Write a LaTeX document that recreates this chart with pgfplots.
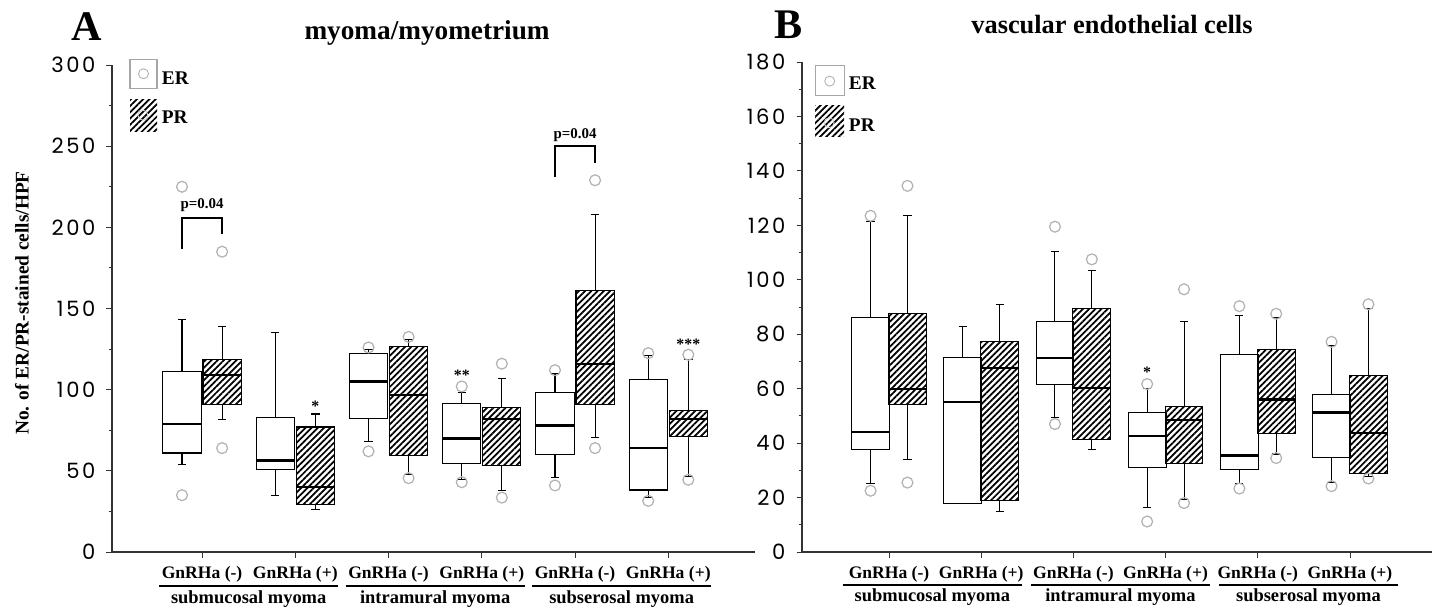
\documentclass[border=0pt]{standalone}
\usepackage{fontspec}
\setmainfont{Liberation Serif}
\newfontfamily\poppins[LetterSpace=12]{Poppins}
\usepackage{pgfplots}
\pgfplotsset{compat=1.18}
\usepgfplotslibrary{statistics}
\usetikzlibrary{patterns.meta}

\pgfplotsset{
  panel/.style={
    scale only axis,
    axis x line*=bottom, axis y line*=left,
    axis line style={black!80, line width=0.6pt},
    tick align=outside,
    tick style={black!80, line width=0.5pt},
    major tick length=1.1mm, minor tick length=0.7mm,
    xtick={1,...,6},
    xticklabels={GnRHa (-),GnRHa (+),GnRHa (-),GnRHa (+),GnRHa (-),GnRHa (+)},
    xticklabel style={font=\bfseries\fontsize{10}{12}\selectfont, yshift=-0.6mm},
    yticklabel style={font=\poppins\fontsize{12}{14}\selectfont, xshift=-1.0mm},
    /pgf/number format/assume math mode=true,
    minor y tick num=1,
    clip=false,
    boxplot/draw direction=y,
    cycle list={{black}},
  },
  erbox/.style={solid, draw=black, line width=0.6pt, mark=o, mark size=3.1pt,
    mark options={draw=gray!60, line width=0.7pt, fill=none},
    boxplot/box extend=0.41, boxplot/whisker extend=0.09,
    boxplot/every box/.style={fill=white},
    boxplot/every median/.style={line width=1.3pt}},
  prbox/.style={erbox,
    boxplot/every box/.style={pattern={Lines[angle=45,distance=2.5pt,line width=1pt]}}},
}
\tikzset{
  grp/.style={font=\bfseries\fontsize{10.5}{12}\selectfont},
  star/.style={font=\bfseries\fontsize{9}{10}\selectfont},
  pval/.style={font=\bfseries\fontsize{8.5}{10}\selectfont},
  legtxt/.style={font=\bfseries\fontsize{11}{13}\selectfont, anchor=west, inner sep=0pt},
}

\begin{document}
\begin{tikzpicture}
\useasboundingbox (0,0) rectangle (287mm,121.8mm);

% ---------------- A: myoma/myometrium
\begin{axis}[panel,
  at={(22.4mm,11.4mm)}, anchor=south west,
  width=128.6mm, height=97.4mm,
  xmin=0.034, xmax=6.93, ymin=0, ymax=300,
  ytick={0,50,...,300},
  ylabel={No. of ER/PR-stained cells/HPF},
  ylabel style={font=\bfseries\fontsize{11}{13}\selectfont, at={(axis description cs:-0.14,0.511)}, anchor=center},
  title={myoma/myometrium},
  title style={font=\bfseries\fontsize{15.5}{18}\selectfont, at={(axis description cs:0.49,1.045)}, anchor=center},
]
% submucosal
\addplot+[erbox, boxplot prepared={draw position=0.785, lower whisker=54, lower quartile=61, median=79, upper quartile=111, upper whisker=143}] table[row sep=\\, y index=0] {v\\35\\225\\};
\addplot+[prbox, boxplot prepared={draw position=1.215, lower whisker=81.5, lower quartile=91, median=109, upper quartile=118.5, upper whisker=139}] table[row sep=\\, y index=0] {v\\64\\185\\};
\addplot+[erbox, boxplot prepared={draw position=1.785, lower whisker=35, lower quartile=51, median=56.3, upper quartile=83, upper whisker=135}] coordinates {};
\addplot+[prbox, boxplot prepared={draw position=2.215, lower whisker=26, lower quartile=29.5, median=40, upper quartile=77, upper whisker=85}] coordinates {};
% intramural
\addplot+[erbox, boxplot prepared={draw position=2.785, lower whisker=68, lower quartile=82.3, median=105, upper quartile=122, upper whisker=124.5}] table[row sep=\\, y index=0] {v\\62\\126\\};
\addplot+[prbox, boxplot prepared={draw position=3.215, lower whisker=48, lower quartile=59.5, median=96.5, upper quartile=126.5, upper whisker=131}] table[row sep=\\, y index=0] {v\\45.5\\132.5\\};
\addplot+[erbox, boxplot prepared={draw position=3.785, lower whisker=44.5, lower quartile=54.3, median=70, upper quartile=91.5, upper whisker=98.5}] table[row sep=\\, y index=0] {v\\43\\102\\};
\addplot+[prbox, boxplot prepared={draw position=4.215, lower whisker=38, lower quartile=53.5, median=82, upper quartile=89, upper whisker=107}] table[row sep=\\, y index=0] {v\\33.5\\116\\};
% subserosal
\addplot+[erbox, boxplot prepared={draw position=4.785, lower whisker=46, lower quartile=60, median=78, upper quartile=98.5, upper whisker=110}] table[row sep=\\, y index=0] {v\\41\\112\\};
\addplot+[prbox, boxplot prepared={draw position=5.215, lower whisker=70.5, lower quartile=91, median=116, upper quartile=161, upper whisker=208}] table[row sep=\\, y index=0] {v\\64\\229\\};
\addplot+[erbox, boxplot prepared={draw position=5.785, lower whisker=33.5, lower quartile=38.2, median=64, upper quartile=106, upper whisker=121}] table[row sep=\\, y index=0] {v\\31.5\\122.5\\};
\addplot+[prbox, boxplot prepared={draw position=6.215, lower whisker=46.5, lower quartile=71, median=82, upper quartile=87, upper whisker=118.5}] table[row sep=\\, y index=0] {v\\44.5\\121.5\\};

% legend
\draw[gray!70, line width=0.6pt, fill=white] (axis description cs:0.028,0.951) rectangle (axis description cs:0.070,1.012);
\draw[gray!60, line width=0.5pt] (axis description cs:0.049,0.982) circle (1mm);
\fill[pattern={Lines[angle=45,distance=2.5pt,line width=1pt]}] (axis description cs:0.028,0.864) rectangle (axis description cs:0.070,0.930);
\draw[gray!35, line width=0.5pt] (axis description cs:0.048,0.897) circle (1mm);
\node[legtxt] at (axis description cs:0.077,0.973) {ER};
\node[legtxt] at (axis description cs:0.077,0.893) {PR};

% significance brackets and stars
\draw[line width=1pt] (axis cs:0.785,186.6) -- (axis cs:0.785,205.8) -- (axis cs:1.215,205.8) -- (axis cs:1.215,196);
\node[pval] at (axis cs:1.0,213.6) {p=0.04};
\draw[line width=1pt] (axis cs:4.785,231) -- (axis cs:4.785,250) -- (axis cs:5.215,250) -- (axis cs:5.215,239.7);
\node[pval] at (axis cs:5.0,257) {p=0.04};
\node[star] at (axis cs:2.215,90) {*};
\node[star] at (axis cs:3.785,109) {**};
\node[star] at (axis cs:6.215,128) {***};

% group labels
\draw[line width=0.9pt] ([yshift=-6.8mm]axis cs:0.54,0) -- ([yshift=-6.8mm]axis cs:2.46,0);
\draw[line width=0.9pt] ([yshift=-6.8mm]axis cs:2.54,0) -- ([yshift=-6.8mm]axis cs:4.46,0);
\draw[line width=0.9pt] ([yshift=-6.8mm]axis cs:4.54,0) -- ([yshift=-6.8mm]axis cs:6.46,0);
\node[grp] at ([yshift=-9.4mm]axis cs:1.5,0) {submucosal myoma};
\node[grp] at ([yshift=-9.4mm]axis cs:3.5,0) {intramural myoma};
\node[grp] at ([yshift=-9.4mm]axis cs:5.5,0) {subserosal myoma};
\node[font=\bfseries\fontsize{24}{26}\selectfont] at (axis description cs:-0.039,1.078) {A};
\end{axis}

% ---------------- B: vascular endothelial cells
\begin{axis}[panel,
  at={(160.4mm,11.4mm)}, anchor=south west,
  width=126mm, height=98mm,
  xmin=0.056, xmax=6.89, ymin=0, ymax=180,
  ytick={0,20,...,180},
  title={vascular endothelial cells},
  title style={font=\bfseries\fontsize{15}{18}\selectfont, at={(axis description cs:0.492,1.055)}, anchor=center},
]
% submucosal
\addplot+[erbox, boxplot prepared={draw position=0.8, lower whisker=25, lower quartile=37.5, median=44.2, upper quartile=86, upper whisker=121.5}] table[row sep=\\, y index=0] {v\\22.5\\123.5\\};
\addplot+[prbox, boxplot prepared={draw position=1.2, lower whisker=34, lower quartile=54.2, median=59.8, upper quartile=87.6, upper whisker=123.5}] table[row sep=\\, y index=0] {v\\25.5\\134.5\\};
\addplot+[erbox, boxplot prepared={draw position=1.8, lower whisker=17.8, lower quartile=17.8, median=55, upper quartile=71.3, upper whisker=83}] coordinates {};
\addplot+[prbox, boxplot prepared={draw position=2.2, lower whisker=15, lower quartile=19, median=67.6, upper quartile=77.2, upper whisker=91}] coordinates {};
% intramural
\addplot+[erbox, boxplot prepared={draw position=2.8, lower whisker=49.5, lower quartile=61.7, median=71.3, upper quartile=84.6, upper whisker=110.5}] table[row sep=\\, y index=0] {v\\47\\119.5\\};
\addplot+[prbox, boxplot prepared={draw position=3.2, lower whisker=37.5, lower quartile=41.2, median=60.2, upper quartile=89.3, upper whisker=103.5}] table[row sep=\\, y index=0] {v\\107.5\\};
\addplot+[erbox, boxplot prepared={draw position=3.8, lower whisker=16.4, lower quartile=30.9, median=42.7, upper quartile=51.3, upper whisker=60.2}] table[row sep=\\, y index=0] {v\\11.2\\61.7\\};
\addplot+[prbox, boxplot prepared={draw position=4.2, lower whisker=19.2, lower quartile=32.4, median=48.5, upper quartile=53.6, upper whisker=84.6}] table[row sep=\\, y index=0] {v\\18\\96.5\\};
% subserosal
\addplot+[erbox, boxplot prepared={draw position=4.8, lower whisker=25, lower quartile=30.2, median=35.5, upper quartile=72.7, upper whisker=87}] table[row sep=\\, y index=0] {v\\23.3\\90.3\\};
\addplot+[prbox, boxplot prepared={draw position=5.2, lower whisker=36, lower quartile=43.5, median=56, upper quartile=74.3, upper whisker=86}] table[row sep=\\, y index=0] {v\\34.5\\87.5\\};
\addplot+[erbox, boxplot prepared={draw position=5.8, lower whisker=25.5, lower quartile=34.8, median=51.2, upper quartile=58, upper whisker=75.8}] table[row sep=\\, y index=0] {v\\24.2\\77.2\\};
\addplot+[prbox, boxplot prepared={draw position=6.2, lower whisker=27.9, lower quartile=28.7, median=43.6, upper quartile=64.8, upper whisker=89.3}] table[row sep=\\, y index=0] {v\\27\\91\\};

% legend
\draw[gray!70, line width=0.6pt, fill=white] (axis description cs:0.021,0.931) rectangle (axis description cs:0.067,0.993);
\draw[gray!60, line width=0.5pt] (axis description cs:0.044,0.961) circle (1mm);
\fill[pattern={Lines[angle=45,distance=2.5pt,line width=1pt]}] (axis description cs:0.021,0.848) rectangle (axis description cs:0.067,0.912);
\draw[gray!35, line width=0.5pt] (axis description cs:0.043,0.876) circle (1mm);
\node[legtxt] at (axis description cs:0.074,0.957) {ER};
\node[legtxt] at (axis description cs:0.074,0.871) {PR};

\node[star] at (axis cs:3.8,66) {*};

\draw[line width=0.9pt] ([yshift=-6.6mm]axis cs:0.5,0) -- ([yshift=-6.6mm]axis cs:2.44,0);
\draw[line width=0.9pt] ([yshift=-6.6mm]axis cs:2.54,0) -- ([yshift=-6.6mm]axis cs:4.48,0);
\draw[line width=0.9pt] ([yshift=-6.6mm]axis cs:4.58,0) -- ([yshift=-6.6mm]axis cs:6.52,0);
\node[grp] at ([yshift=-9.0mm]axis cs:1.47,0) {submucosal myoma};
\node[grp] at ([yshift=-9.0mm]axis cs:3.51,0) {intramural myoma};
\node[grp] at ([yshift=-9.0mm]axis cs:5.55,0) {subserosal myoma};
\node[font=\bfseries\fontsize{24}{26}\selectfont] at (axis description cs:-0.021,1.0755) {B};
\end{axis}
\end{tikzpicture}
\end{document}
